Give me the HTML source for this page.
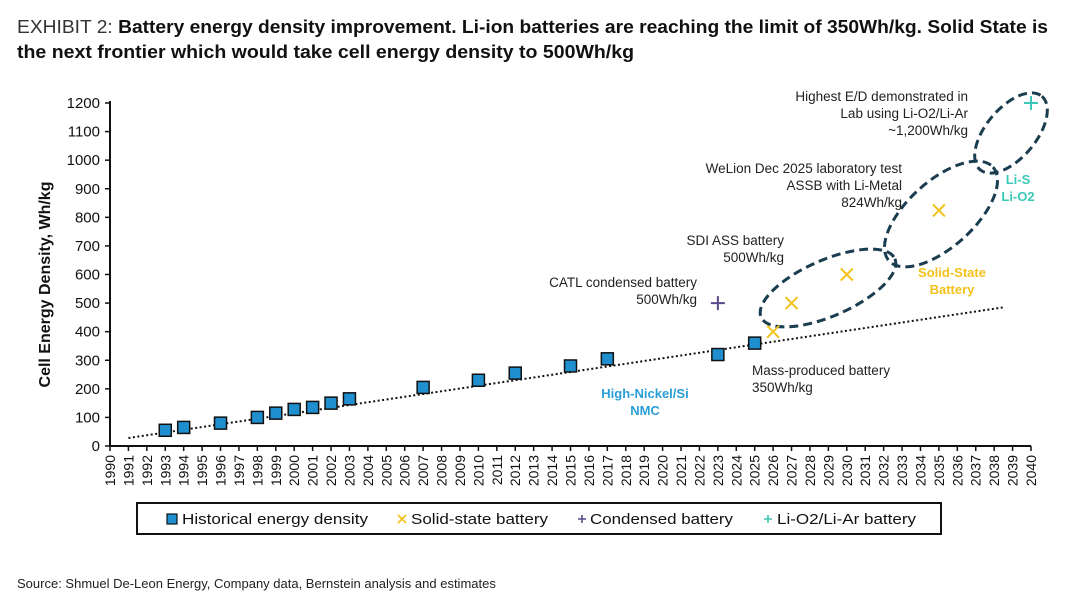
<!DOCTYPE html>
<html><head><meta charset="utf-8"><style>
html,body{margin:0;padding:0;background:#fff;}
svg{display:block;font-family:"Liberation Sans",sans-serif;}
</style></head><body>
<svg id="chart" width="1080" height="600" viewBox="0 0 1080 600">
<text x="17" y="33" font-size="18" textLength="1031" lengthAdjust="spacingAndGlyphs"><tspan fill="#333">EXHIBIT 2: </tspan><tspan font-weight="bold" fill="#111">Battery energy density improvement. Li-ion batteries are reaching the limit of 350Wh/kg. Solid State is</tspan></text>
<text x="17" y="58" font-size="18" font-weight="bold" fill="#111" textLength="617" lengthAdjust="spacingAndGlyphs">the next frontier which would take cell energy density to 500Wh/kg</text>
<text x="17" y="588" font-size="13" fill="#222">Source: Shmuel De-Leon Energy, Company data, Bernstein analysis and estimates</text>
<g id="plot"></g>
</svg>
<script>
const histYears=[1993,1994,1996,1998,1999,2000,2001,2002,2003,2007,2010,2012,2015,2017,2023,2025];
const histValues=[55,65,80,100,115,128,135,150,165,205,230,255,280,305,320,360];
const ssYears=[2026,2027,2030,2035];
const ssValues=[400,500,600,824];
const condYears=[2023];
const condValues=[500];
const lioYears=[2040];
const lioValues=[1200];
const trendYears=[1991,2038.5];
const trendValues=[28,485];
const yTicks=[0,100,200,300,400,500,600,700,800,900,1000,1100,1200];

const NS="http://www.w3.org/2000/svg";
const g=document.getElementById('plot');
const X0=110,X1=1031,Y0=446,Y1=103;
const xs=y=>X0+(y-1990)*(X1-X0)/50;
const ys=v=>Y0-v*(Y0-Y1)/1200;
function mk(tag,attrs,parent){const e=document.createElementNS(NS,tag);for(const k in attrs)e.setAttribute(k,attrs[k]);(parent||g).appendChild(e);return e;}

let ax=mk('line',{x1:X0,y1:Y1-2,x2:X0,y2:Y0,stroke:'#111','stroke-width':2});


ax=mk('line',{x1:X0,y1:Y0,x2:X1,y2:Y0,stroke:'#111','stroke-width':2});


yTicks.forEach(v=>{
  mk('line',{x1:X0-5,y1:ys(v),x2:X0,y2:ys(v),stroke:'#111','stroke-width':1.5});
  const t=mk('text',{x:X0-10,y:ys(v)+5,'text-anchor':'end','font-size':15,fill:'#111'});
  t.textContent=v;
  
  
});
for(let yr=1990;yr<=2040;yr++){
  mk('line',{x1:xs(yr),y1:Y0,x2:xs(yr),y2:Y0+5,stroke:'#111','stroke-width':1.5});
  const t=mk('text',{x:0,y:0,'text-anchor':'end','font-size':14,fill:'#111',transform:`translate(${xs(yr)+5},${Y0+9}) rotate(-90)`});
  t.textContent=yr;
  
  
}
const yt=mk('text',{x:0,y:0,'text-anchor':'middle','font-size':16,'font-weight':'bold',fill:'#111',transform:`translate(50,${(Y0+Y1)/2+10}) rotate(-90)`});
yt.textContent='Cell Energy Density, Wh/kg';



const tr=mk('line',{x1:xs(trendYears[0]),y1:ys(trendValues[0]),x2:xs(trendYears[1]),y2:ys(trendValues[1]),stroke:'#111','stroke-width':2,'stroke-dasharray':'2 2.5'});



[[828,288,73,28,-23.6],[941,214,70,33,-42],[1011,133,48,25,-50]].forEach((e,i)=>{
  const el=mk('ellipse',{cx:0,cy:0,rx:e[2],ry:e[3],fill:'none',stroke:'#1a3d4f','stroke-width':3,'stroke-dasharray':'9 5',transform:`translate(${e[0]},${e[1]}) rotate(${e[4]})`});
  
  
});

histYears.forEach((yr,i)=>{
  const r=mk('rect',{x:xs(yr)-6,y:ys(histValues[i])-6,width:12,height:12,fill:'#1f8fcf',stroke:'#111','stroke-width':1.5});
  
  
});
function cross(x,y,s,c,w,name){
  const p=mk('path',{d:`M${x-s},${y-s}L${x+s},${y+s}M${x-s},${y+s}L${x+s},${y-s}`,stroke:c,'stroke-width':w,fill:'none'});
  
  
}
function plus(x,y,s,c,w,name){
  const p=mk('path',{d:`M${x-s},${y}L${x+s},${y}M${x},${y-s}L${x},${y+s}`,stroke:c,'stroke-width':w,fill:'none'});
  
  
}
ssYears.forEach((yr,i)=>cross(xs(yr),ys(ssValues[i]),6,'#f2c21b',2,'solid-state-point'));
condYears.forEach((yr,i)=>plus(xs(yr),ys(condValues[i]),7,'#5b4a8b',2,'condensed-point'));
lioYears.forEach((yr,i)=>plus(xs(yr),ys(lioValues[i]),7,'#3cc8b8',2,'li-o2-point'));

function txt(lines,x,y,anchor,color,bold,name,lh){
  const t=mk('text',{x:x,y:y,'text-anchor':anchor,'font-size':bold?13:13.5,fill:color,'font-weight':bold?'bold':'normal'});
  lines.forEach((l,i)=>{const s=mk('tspan',{x:x,dy:i?lh||17:0},t);s.textContent=l;});
  
  
}
txt(['Highest E/D demonstrated in','Lab using Li-O2/Li-Ar','~1,200Wh/kg'],968,101,'end','#222',false,'annotation-li-o2');
txt(['WeLion Dec 2025 laboratory test','ASSB with Li-Metal','824Wh/kg'],902,173,'end','#222',false,'annotation-welion');
txt(['SDI ASS battery','500Wh/kg'],784,245,'end','#222',false,'annotation-sdi');
txt(['CATL condensed battery','500Wh/kg'],697,287,'end','#222',false,'annotation-catl');
txt(['Mass-produced battery','350Wh/kg'],752,375,'start','#222',false,'annotation-mass-produced');
txt(['High-Nickel/Si','NMC'],645,398,'middle','#2a9fd6',true,'label-high-nickel');
txt(['Solid-State','Battery'],952,277,'middle','#f2c21b',true,'label-solid-state');
txt(['Li-S','Li-O2'],1018,184,'middle','#3cc8b8',true,'label-li-s');

const lg=mk('rect',{x:137,y:503,width:804,height:31,fill:'#fff',stroke:'#111','stroke-width':2});


const ly=519;
let r=mk('rect',{x:167,y:ly-5,width:10,height:10,fill:'#1f8fcf',stroke:'#111','stroke-width':1.2});


cross(402,ly,4,'#f2c21b',1.8,'legend-solid-state-marker');
plus(582,ly,4,'#5b4a8b',1.6,'legend-condensed-marker');
plus(768,ly,4,'#3cc8b8',1.6,'legend-li-o2-marker');
[['Historical energy density',182,186],['Solid-state battery',411,137],['Condensed battery',590,143],['Li-O2/Li-Ar battery',777,139]].forEach(l=>{
  const t=mk('text',{x:l[1],y:ly+5,'font-size':15,fill:'#111',textLength:l[2],lengthAdjust:'spacingAndGlyphs'});
  t.textContent=l[0];
  
  
});
</script>
</body></html>
